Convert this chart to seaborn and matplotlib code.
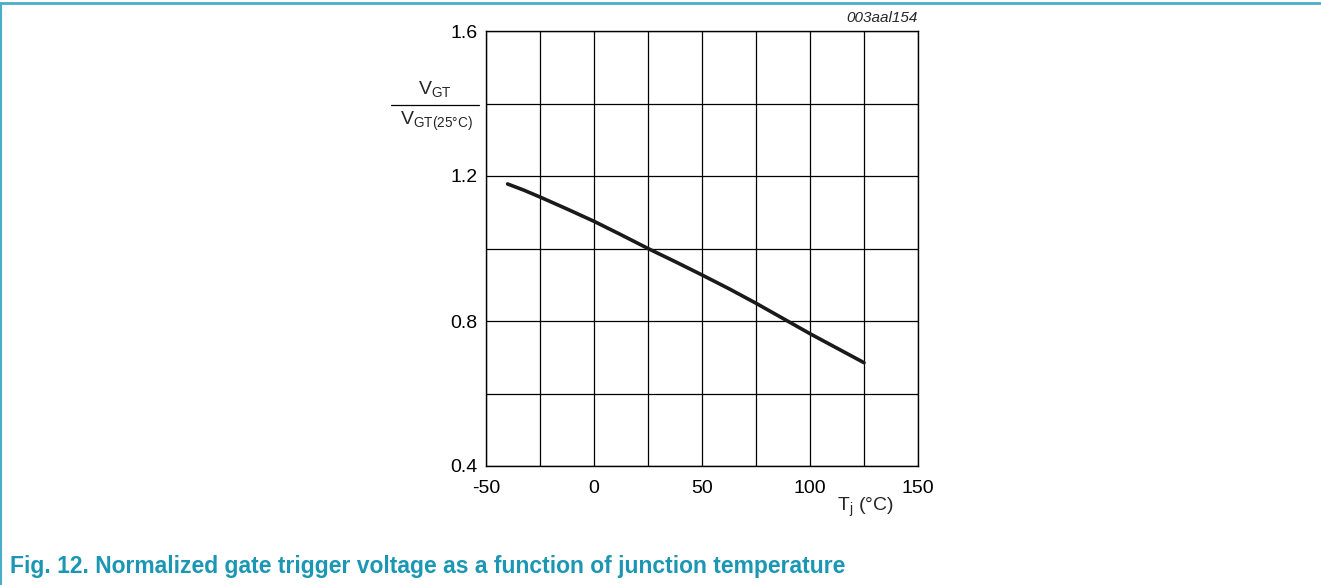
import matplotlib
matplotlib.use("Agg")
import matplotlib.pyplot as plt
import seaborn as sns
import pandas as pd
from matplotlib.lines import Line2D

# values
temp_c = [-40, -32.5, -25, -12.5, 0, 12.5, 25, 37.5, 50, 62.5, 75, 87.5, 100, 112.5, 125]
vgt_norm = [1.178, 1.161, 1.142, 1.109, 1.075, 1.038, 1.0, 0.964, 0.927, 0.889,
            0.849, 0.807, 0.765, 0.725, 0.685]
x_ticks = [-50, 0, 50, 100, 150]
y_ticks = [0.4, 0.8, 1.2, 1.6]

df = pd.DataFrame({"Tj": temp_c, "ratio": vgt_norm})

sns.set_theme(style="white")
plt.rcParams["font.family"] = ["Liberation Sans", "DejaVu Sans"]

fig = plt.figure(figsize=(13.21, 5.85), dpi=100)
ax = fig.add_axes([486 / 1321, 1 - 466 / 585, 432 / 1321, 435 / 585])

sns.lineplot(data=df, x="Tj", y="ratio", ax=ax, color="#1a1a1a", linewidth=2.6)

# grid every 25 degC / 0.2, labels only on the major values
grid_x = list(range(-50, 151, 25))
grid_y = [round(0.4 + 0.2 * i, 1) for i in range(7)]
ax.set_xlim(-50, 150)
ax.set_ylim(0.4, 1.6)
ax.set_xticks(grid_x)
ax.set_yticks(grid_y)
ax.set_xticklabels([str(t) if t in x_ticks else "" for t in grid_x])
ax.set_yticklabels([f"{v:.1f}" if v in y_ticks else "" for v in grid_y])
ax.grid(True, color="black", linewidth=0.9)
ax.tick_params(length=0, labelsize=14, colors="black")
ax.tick_params(axis="x", pad=10)
ax.tick_params(axis="y", pad=6)
for s in ax.spines.values():
    s.set_color("black")
    s.set_linewidth(1.0)
ax.set_xlabel("")
ax.set_ylabel("")

# y-axis label as a fraction
fig.text(435 / 1321, 1 - 90 / 585, r"V$_{\mathregular{GT}}$", fontsize=14, ha="center", va="center")
fig.add_artist(Line2D([391 / 1321, 479 / 1321], [1 - 105 / 585, 1 - 105 / 585], color="black", linewidth=0.9))
fig.text(436 / 1321, 1 - 121 / 585, r"V$_{\mathregular{GT(25°C)}}$", fontsize=14, ha="center", va="center")

# x-axis label
fig.text(865 / 1321, 1 - 507 / 585, r"T$_{\mathregular{j}}$ (°C)", fontsize=14, ha="center", va="center")

# figure code
fig.text(918 / 1321, 1 - 18 / 585, "003aal154", fontsize=11, style="italic", ha="right", va="center")

# caption
fig.text(10 / 1321, 1 - 567 / 585,
         "Fig. 12. Normalized gate trigger voltage as a function of junction temperature",
         fontsize=16.5, fontweight="bold", color="#1b97b4", ha="left", va="center",
         family=["Liberation Sans Narrow", "Liberation Sans", "DejaVu Sans"])

# teal frame lines
teal = "#4aaec6"
fig.add_artist(Line2D([0, 1], [1 - 3 / 585, 1 - 3 / 585], color=teal, linewidth=2))
fig.add_artist(Line2D([1 / 1321, 1 / 1321], [0, 1 - 3 / 585], color=teal, linewidth=1.5))

fig.savefig("out.png", dpi=100)
